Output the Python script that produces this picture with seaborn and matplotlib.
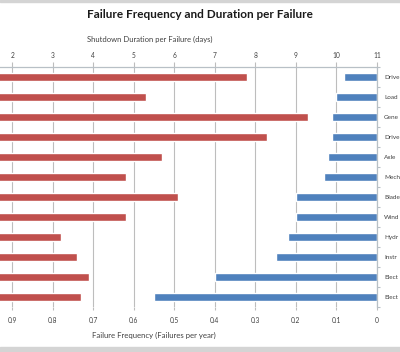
import numpy as np
import pandas as pd
import matplotlib
matplotlib.use("Agg")
import matplotlib.pyplot as plt
from matplotlib.patches import Rectangle
from matplotlib import font_manager
import seaborn as sns

# ---- data ----
categories = ["Drive", "Load", "Gene", "Drive", "Axle", "Mech",
              "Blade", "Wind", "Hydr", "Instr", "Elect", "Elect"]
duration_days = [7.8, 5.3, 9.3, 8.3, 5.7, 4.8, 6.1, 4.8, 3.2, 3.6, 3.9, 3.7]
failure_freq = [0.08, 0.10, 0.11, 0.11, 0.12, 0.13, 0.20, 0.20, 0.22, 0.25, 0.40, 0.55]
day_ticks = [2, 3, 4, 5, 6, 7, 8, 9, 10, 11]
freq_ticks = [0.9, 0.8, 0.7, 0.6, 0.5, 0.4, 0.3, 0.2, 0.1, 0]
freq_tick_labels = ["0.9", "0.8", "0.7", "0.6", "0.5", "0.4", "0.3", "0.2", "0.1", "0"]

title = "Failure Frequency and Duration per Failure"
top_label = "Shutdown Duration per Failure (days)"
bottom_label = "Failure Frequency (Failures per year)"

RED = "#C0504D"
BLUE = "#4F81BD"
GRID = "#BDBDBD"
AXC = "#B8C0C6"
TXT = "#404040"

sns.set_style("white")
plt.rcParams["font.family"] = ["Lato", "DejaVu Sans"]

installed = {f.name for f in font_manager.fontManager.ttflist}
narrow = "Liberation Sans Narrow" if "Liberation Sans Narrow" in installed else None
cat_family = [narrow, "Lato", "DejaVu Sans"] if narrow else ["Lato", "DejaVu Sans"]
cat_size = 5.3 if narrow else 4.6

df = pd.DataFrame({"row": list(range(len(categories))),
                   "duration": duration_days,
                   "freq": failure_freq})

W, H = 400, 352
fig = plt.figure(figsize=(W / 100, H / 100), dpi=100)
fig.patch.set_facecolor("white")

left_px, right_px = -68.7, 376.8
top_px, bot_px = 67.3, 307.3
ax = fig.add_axes([left_px / W, 1 - bot_px / H,
                   (right_px - left_px) / W, (bot_px - top_px) / H])
ax2 = ax.twiny()

# frequency bars (bottom axis, reversed)
sns.barplot(data=df, x="freq", y="row", orient="h", order=df["row"].tolist(),
            color=BLUE, saturation=1, width=0.39, ax=ax, errorbar=None)
# duration bars (top axis)
sns.barplot(data=df, x="duration", y="row", orient="h", order=df["row"].tolist(),
            color=RED, saturation=1, width=0.39, ax=ax2, errorbar=None)

ax.set_xlim(1.1, 0)
ax2.set_xlim(0, 11)
ax.set_ylim(len(categories) - 0.5, -0.5)

# gridlines on bottom axis (drawn below both bar sets)
ax.set_axisbelow(True)
ax.set_xticks(freq_ticks)
ax.set_xticklabels(freq_tick_labels)
ax.grid(axis="x", color=GRID, linewidth=0.8)
ax.grid(axis="y", visible=False)
ax2.grid(False)

ax2.set_xticks(day_ticks)
ax2.set_xticklabels([str(d) for d in day_ticks])

ax.tick_params(axis="x", which="major", bottom=True, top=False, length=2.5,
               width=0.8, color=GRID, pad=4.2, labelsize=4.8, labelcolor=TXT)
ax2.tick_params(axis="x", which="major", top=True, bottom=False, length=3.5,
                width=0.8, color=GRID, pad=2.8, labelsize=4.8, labelcolor=TXT)

# categories on the right
ax.set_yticks(range(len(categories)))
ax.set_yticklabels(categories)
ax.set_yticks(np.arange(-0.5, len(categories), 1), minor=True)
ax.yaxis.tick_right()
ax.tick_params(axis="y", which="major", length=0, pad=5.2, labelsize=cat_size,
               labelcolor=TXT, left=False, right=True,
               labelleft=False, labelright=True)
ax.tick_params(axis="y", which="minor", length=2.5, width=0.8, color=AXC,
               left=False, right=True)
for lbl in ax.get_yticklabels():
    lbl.set_family(cat_family)
ax2.set_ylabel("")
ax.set_ylabel("")

for a in (ax, ax2):
    for s in a.spines.values():
        s.set_visible(False)
ax.spines["right"].set_visible(True)
ax.spines["right"].set_color(AXC)
ax.spines["right"].set_linewidth(0.9)
ax2.spines["top"].set_visible(True)
ax2.spines["top"].set_color(AXC)
ax2.spines["top"].set_linewidth(0.9)

ax.set_xlabel(bottom_label, fontsize=5.6, color=TXT)
ax.xaxis.set_label_coords(0.5, -0.1167)
ax.xaxis.label.set_va("center")
ax2.set_xlabel(top_label, fontsize=5.5, color=TXT)
ax2.xaxis.set_label_coords(0.491, 1.1167)
ax2.xaxis.label.set_va("center")

fig.text(200 / W, 1 - 15 / H, title, ha="center", va="center",
         fontsize=8.5, fontweight="bold", color="#1a1a1a")

# outer frame bands of the cropped chart area
fig.patches.append(Rectangle((0, 1 - 1.6 / H), 1, 1.6 / H,
                             transform=fig.transFigure, color="#D4D4D4", zorder=0))
fig.patches.append(Rectangle((0, 0), 1, 5 / H,
                             transform=fig.transFigure, color="#D4D4D4", zorder=0))

fig.savefig("out.png", dpi=100)
